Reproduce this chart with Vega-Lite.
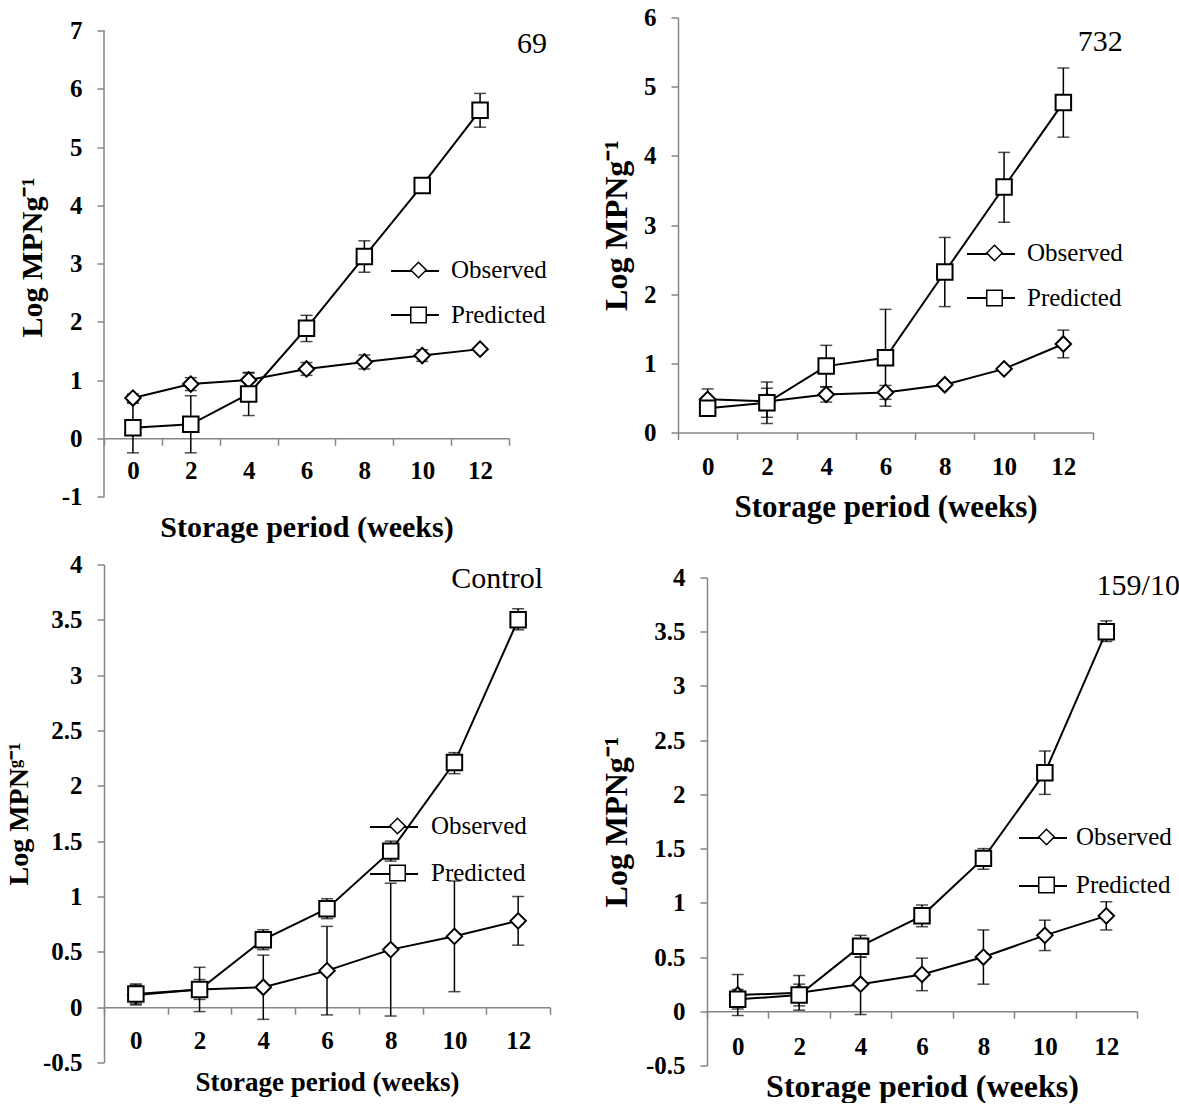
{
  "$schema": "https://vega.github.io/schema/vega-lite/v6.json",
  "background": "white",
  "padding": {"left": 5, "top": 5.5, "right": 0, "bottom": 0},
  "config": {
    "font": "Liberation Serif",
    "view": {"stroke": null},
    "axis": {
      "domainColor": "#868686", "domainWidth": 1.5, "tickColor": "#868686", "tickWidth": 1.5, "tickSize": 7,
      "labelFont": "Liberation Serif", "labelFontWeight": "bold", "labelFontSize": 25, "labelColor": "black",
      "titleFont": "Liberation Serif", "titleFontWeight": "bold", "titleColor": "black", "grid": false
    },
    "legend": {"labelFont": "Liberation Serif", "labelColor": "black", "labelFontSize": 25, "labelFontWeight": "normal", "title": null, "padding": 0, "orient": "none"}
  },
  "datasets": {
    "p69": [
      {"week": 0, "series": "Observed", "value": 0.69, "lo": 0.62, "hi": 0.76},
      {"week": 2, "series": "Observed", "value": 0.93, "lo": 0.82, "hi": 1.04},
      {"week": 4, "series": "Observed", "value": 1.0, "lo": 0.87, "hi": 1.13},
      {"week": 6, "series": "Observed", "value": 1.19, "lo": 1.08, "hi": 1.3},
      {"week": 8, "series": "Observed", "value": 1.31, "lo": 1.19, "hi": 1.43},
      {"week": 10, "series": "Observed", "value": 1.42, "lo": 1.32, "hi": 1.52},
      {"week": 12, "series": "Observed", "value": 1.53, "lo": 1.5, "hi": 1.56},
      {"week": 0, "series": "Predicted", "value": 0.18, "lo": -0.25, "hi": 0.6},
      {"week": 2, "series": "Predicted", "value": 0.24, "lo": -0.25, "hi": 0.73},
      {"week": 4, "series": "Predicted", "value": 0.76, "lo": 0.39, "hi": 1.12},
      {"week": 6, "series": "Predicted", "value": 1.89, "lo": 1.66, "hi": 2.11},
      {"week": 8, "series": "Predicted", "value": 3.12, "lo": 2.85, "hi": 3.39},
      {"week": 10, "series": "Predicted", "value": 4.34, "lo": 4.22, "hi": 4.46},
      {"week": 12, "series": "Predicted", "value": 5.63, "lo": 5.34, "hi": 5.92}
    ],
    "p732": [
      {"week": 0, "series": "Observed", "value": 0.48, "lo": 0.33, "hi": 0.63},
      {"week": 2, "series": "Observed", "value": 0.45, "lo": 0.22, "hi": 0.64},
      {"week": 4, "series": "Observed", "value": 0.55, "lo": 0.44, "hi": 0.66},
      {"week": 6, "series": "Observed", "value": 0.58, "lo": 0.48, "hi": 0.68},
      {"week": 8, "series": "Observed", "value": 0.69, "lo": 0.66, "hi": 0.72},
      {"week": 10, "series": "Observed", "value": 0.92, "lo": 0.89, "hi": 0.95},
      {"week": 12, "series": "Observed", "value": 1.28, "lo": 1.08, "hi": 1.48},
      {"week": 0, "series": "Predicted", "value": 0.35, "lo": 0.3, "hi": 0.4},
      {"week": 2, "series": "Predicted", "value": 0.43, "lo": 0.13, "hi": 0.73},
      {"week": 4, "series": "Predicted", "value": 0.96, "lo": 0.66, "hi": 1.26},
      {"week": 6, "series": "Predicted", "value": 1.08, "lo": 0.38, "hi": 1.78},
      {"week": 8, "series": "Predicted", "value": 2.32, "lo": 1.82, "hi": 2.82},
      {"week": 10, "series": "Predicted", "value": 3.55, "lo": 3.04, "hi": 4.05},
      {"week": 12, "series": "Predicted", "value": 4.77, "lo": 4.27, "hi": 5.27}
    ],
    "pctrl": [
      {"week": 0, "series": "Observed", "value": 0.11, "lo": 0.02, "hi": 0.2},
      {"week": 2, "series": "Observed", "value": 0.16, "lo": -0.04, "hi": 0.36},
      {"week": 4, "series": "Observed", "value": 0.18, "lo": -0.11, "hi": 0.47},
      {"week": 6, "series": "Observed", "value": 0.33, "lo": -0.07, "hi": 0.73},
      {"week": 8, "series": "Observed", "value": 0.52, "lo": -0.08, "hi": 1.12},
      {"week": 10, "series": "Observed", "value": 0.64, "lo": 0.14, "hi": 1.14},
      {"week": 12, "series": "Observed", "value": 0.78, "lo": 0.56, "hi": 1.0},
      {"week": 0, "series": "Predicted", "value": 0.12, "lo": 0.03, "hi": 0.21},
      {"week": 2, "series": "Predicted", "value": 0.16, "lo": 0.07, "hi": 0.25},
      {"week": 4, "series": "Predicted", "value": 0.61, "lo": 0.52, "hi": 0.7},
      {"week": 6, "series": "Predicted", "value": 0.89, "lo": 0.8, "hi": 0.98},
      {"week": 8, "series": "Predicted", "value": 1.41, "lo": 1.32, "hi": 1.5},
      {"week": 10, "series": "Predicted", "value": 2.21, "lo": 2.11, "hi": 2.3},
      {"week": 12, "series": "Predicted", "value": 3.5, "lo": 3.41, "hi": 3.6}
    ],
    "p159": [
      {"week": 0, "series": "Observed", "value": 0.15, "lo": -0.04, "hi": 0.34},
      {"week": 2, "series": "Observed", "value": 0.17, "lo": 0.01, "hi": 0.33},
      {"week": 4, "series": "Observed", "value": 0.25, "lo": -0.03, "hi": 0.5},
      {"week": 6, "series": "Observed", "value": 0.34, "lo": 0.19, "hi": 0.49},
      {"week": 8, "series": "Observed", "value": 0.5, "lo": 0.25, "hi": 0.75},
      {"week": 10, "series": "Observed", "value": 0.7, "lo": 0.56, "hi": 0.84},
      {"week": 12, "series": "Observed", "value": 0.88, "lo": 0.75, "hi": 1.01},
      {"week": 0, "series": "Predicted", "value": 0.11, "lo": 0.02, "hi": 0.2},
      {"week": 2, "series": "Predicted", "value": 0.15, "lo": 0.05, "hi": 0.25},
      {"week": 4, "series": "Predicted", "value": 0.6, "lo": 0.5, "hi": 0.7},
      {"week": 6, "series": "Predicted", "value": 0.88, "lo": 0.78, "hi": 0.98},
      {"week": 8, "series": "Predicted", "value": 1.41, "lo": 1.31, "hi": 1.5},
      {"week": 10, "series": "Predicted", "value": 2.2, "lo": 2.0, "hi": 2.4},
      {"week": 12, "series": "Predicted", "value": 3.5, "lo": 3.41, "hi": 3.6}
    ]
  },
  "columns": 2,
  "align": "none",
  "bounds": "full",
  "spacing": {"row": 10, "column": 49},
  "resolve": {"scale": {"shape": "independent", "color": "independent"}, "legend": {"shape": "independent", "color": "independent"}},
  "concat": [
    {
      "width": 405, "height": 479,
      "data": {"name": "p69"},
      "encoding": {
        "x": {"field": "week", "type": "ordinal", "title": "Storage period (weeks)",
          "scale": {"type": "band", "domain": [0, 2, 4, 6, 8, 10, 12], "paddingInner": 0, "paddingOuter": 0},
          "axis": {"labelAngle": 0, "tickBand": "extent", "offset": -58.25, "labelPadding": 13, "titlePadding": 29, "titleFontSize": 30}}
      },
      "layer": [
        {"mark": {"type": "rule", "color": "black", "strokeWidth": 1.5},
         "encoding": {"y": {"field": "lo", "type": "quantitative", "title": "Log MPNg⁻¹",
           "scale": {"domain": [-1, 7.2232], "nice": false, "zero": false},
           "axis": {"values": [-1, 0, 1, 2, 3, 4, 5, 6, 7], "format": "d", "labelExpr": "replace(datum.label, '−', '-')", "labelPadding": 15, "titleFontSize": 30, "titlePadding": 14, "domain": false}},
           "y2": {"field": "hi"}}},
        {"data": {"values": [{}]},
         "mark": {"type": "rule", "color": "#868686", "strokeWidth": 1.5},
         "encoding": {"x": {"datum": 0, "type": "ordinal", "bandPosition": 0}, "y": {"datum": -1, "type": "quantitative"}, "y2": {"datum": 7}}},
        {"mark": {"type": "tick", "color": "black", "thickness": 1.5, "size": 12},
         "encoding": {"y": {"field": "lo", "type": "quantitative", "title": "Log MPNg⁻¹"}}},
        {"mark": {"type": "tick", "color": "black", "thickness": 1.5, "size": 12},
         "encoding": {"y": {"field": "hi", "type": "quantitative", "title": "Log MPNg⁻¹"}}},
        {"mark": {"type": "line", "strokeWidth": 2},
         "encoding": {"y": {"field": "value", "type": "quantitative", "title": "Log MPNg⁻¹"},
           "color": {"field": "series", "type": "nominal", "scale": {"domain": ["Predicted", "Observed"], "range": ["black", "black"]},
             "legend": {"legendX": 286, "legendY": 228.5, "symbolType": "stroke", "symbolSize": 2304, "symbolStrokeWidth": 2, "symbolStrokeColor": "black", "labelOpacity": 0, "labelOffset": 0, "rowPadding": 6}}}},
        {"mark": {"type": "point", "filled": true, "fill": "white", "stroke": "black", "strokeWidth": 2, "size": 240, "opacity": 1},
         "encoding": {"y": {"field": "value", "type": "quantitative", "title": "Log MPNg⁻¹"},
           "shape": {"field": "series", "type": "nominal", "scale": {"domain": ["Observed", "Predicted"], "range": ["diamond", "square"]},
             "legend": {"legendX": 302, "legendY": 240, "labelOffset": 20, "rowPadding": 19, "symbolSize": 240}}}},
        {"data": {"values": [{}]},
         "mark": {"type": "text", "font": "Liberation Serif", "fontSize": 30, "align": "center", "baseline": "middle", "dx": 52, "color": "black"},
         "encoding": {"x": {"datum": 12, "type": "ordinal"}, "y": {"datum": 6.76, "type": "quantitative"}, "text": {"value": "69"}}}
      ]
    },
    {
      "width": 415, "height": 415,
      "data": {"name": "p732"},
      "encoding": {
        "x": {"field": "week", "type": "ordinal", "title": "Storage period (weeks)",
          "scale": {"type": "band", "domain": [0, 2, 4, 6, 8, 10, 12], "paddingInner": 0, "paddingOuter": 0},
          "axis": {"labelAngle": 0, "tickBand": "extent", "labelPadding": 15, "titlePadding": 13, "titleFontSize": 31}}
      },
      "layer": [
        {"mark": {"type": "rule", "color": "black", "strokeWidth": 1.5},
         "encoding": {"y": {"field": "lo", "type": "quantitative", "title": "Log MPNg⁻¹",
           "scale": {"domain": [0, 6], "nice": false, "zero": false},
           "axis": {"values": [0, 1, 2, 3, 4, 5, 6], "format": "d", "labelPadding": 15, "titleFontSize": 32, "titlePadding": 10}},
           "y2": {"field": "hi"}}},
        {"mark": {"type": "tick", "color": "black", "thickness": 1.5, "size": 12},
         "encoding": {"y": {"field": "lo", "type": "quantitative", "title": "Log MPNg⁻¹"}}},
        {"mark": {"type": "tick", "color": "black", "thickness": 1.5, "size": 12},
         "encoding": {"y": {"field": "hi", "type": "quantitative", "title": "Log MPNg⁻¹"}}},
        {"mark": {"type": "line", "strokeWidth": 2},
         "encoding": {"y": {"field": "value", "type": "quantitative", "title": "Log MPNg⁻¹"},
           "color": {"field": "series", "type": "nominal", "scale": {"domain": ["Predicted", "Observed"], "range": ["black", "black"]},
             "legend": {"legendX": 288, "legendY": 211.5, "symbolType": "stroke", "symbolSize": 2304, "symbolStrokeWidth": 2, "symbolStrokeColor": "black", "labelOpacity": 0, "labelOffset": 0, "rowPadding": 6}}}},
        {"mark": {"type": "point", "filled": true, "fill": "white", "stroke": "black", "strokeWidth": 2, "size": 240, "opacity": 1},
         "encoding": {"y": {"field": "value", "type": "quantitative", "title": "Log MPNg⁻¹"},
           "shape": {"field": "series", "type": "nominal", "scale": {"domain": ["Observed", "Predicted"], "range": ["diamond", "square"]},
             "legend": {"legendX": 304, "legendY": 223, "labelOffset": 20, "rowPadding": 19, "symbolSize": 240}}}},
        {"data": {"values": [{}]},
         "mark": {"type": "text", "font": "Liberation Serif", "fontSize": 30, "align": "center", "baseline": "middle", "dx": 37, "color": "black"},
         "encoding": {"x": {"datum": 12, "type": "ordinal"}, "y": {"datum": 5.64, "type": "quantitative"}, "text": {"value": "732"}}}
      ]
    },
    {
      "width": 446, "height": 498,
      "data": {"name": "pctrl"},
      "encoding": {
        "x": {"field": "week", "type": "ordinal", "title": "Storage period (weeks)",
          "scale": {"type": "band", "domain": [0, 2, 4, 6, 8, 10, 12], "paddingInner": 0, "paddingOuter": 0},
          "axis": {"labelAngle": 0, "tickBand": "extent", "offset": -55.33, "labelPadding": 14, "titlePadding": 16, "titleFontSize": 27}}
      },
      "layer": [
        {"mark": {"type": "rule", "color": "black", "strokeWidth": 1.5},
         "encoding": {"y": {"field": "lo", "type": "quantitative", "title": "Log MPNᵍ⁻¹",
           "scale": {"domain": [-0.5, 4], "nice": false, "zero": false},
           "axis": {"values": [-0.5, 0, 0.5, 1, 1.5, 2, 2.5, 3, 3.5, 4], "format": "~g", "labelExpr": "replace(datum.label, '−', '-')", "labelPadding": 15, "titleFontSize": 28, "titlePadding": 9}},
           "y2": {"field": "hi"}}},
        {"mark": {"type": "tick", "color": "black", "thickness": 1.5, "size": 12},
         "encoding": {"y": {"field": "lo", "type": "quantitative", "title": "Log MPNᵍ⁻¹"}}},
        {"mark": {"type": "tick", "color": "black", "thickness": 1.5, "size": 12},
         "encoding": {"y": {"field": "hi", "type": "quantitative", "title": "Log MPNᵍ⁻¹"}}},
        {"mark": {"type": "line", "strokeWidth": 2},
         "encoding": {"y": {"field": "value", "type": "quantitative", "title": "Log MPNᵍ⁻¹"},
           "color": {"field": "series", "type": "nominal", "scale": {"domain": ["Predicted", "Observed"], "range": ["black", "black"]},
             "legend": {"legendX": 265, "legendY": 237.5, "symbolType": "stroke", "symbolSize": 2304, "symbolStrokeWidth": 2, "symbolStrokeColor": "black", "labelOpacity": 0, "labelOffset": 0, "rowPadding": 9}}}},
        {"mark": {"type": "point", "filled": true, "fill": "white", "stroke": "black", "strokeWidth": 2, "size": 240, "opacity": 1},
         "encoding": {"y": {"field": "value", "type": "quantitative", "title": "Log MPNᵍ⁻¹"},
           "shape": {"field": "series", "type": "nominal", "scale": {"domain": ["Observed", "Predicted"], "range": ["diamond", "square"]},
             "legend": {"legendX": 281, "legendY": 249, "labelOffset": 21, "rowPadding": 21, "symbolSize": 240}}}},
        {"data": {"values": [{}]},
         "mark": {"type": "text", "font": "Liberation Serif", "fontSize": 30, "align": "center", "baseline": "middle", "dx": -21, "color": "black"},
         "encoding": {"x": {"datum": 12, "type": "ordinal"}, "y": {"datum": 3.87, "type": "quantitative"}, "text": {"value": "Control"}}}
      ]
    },
    {
      "width": 430, "height": 488,
      "data": {"name": "p159"},
      "title": {"text": " ", "fontSize": 9, "offset": 4},
      "encoding": {
        "x": {"field": "week", "type": "ordinal", "title": "Storage period (weeks)",
          "scale": {"type": "band", "domain": [0, 2, 4, 6, 8, 10, 12], "paddingInner": 0, "paddingOuter": 0},
          "axis": {"labelAngle": 0, "tickBand": "extent", "offset": -54.22, "labelPadding": 16, "titlePadding": 12, "titleFontSize": 32}}
      },
      "layer": [
        {"mark": {"type": "rule", "color": "black", "strokeWidth": 1.5},
         "encoding": {"y": {"field": "lo", "type": "quantitative", "title": "Log MPNg⁻¹",
           "scale": {"domain": [-0.5, 4], "nice": false, "zero": false},
           "axis": {"values": [-0.5, 0, 0.5, 1, 1.5, 2, 2.5, 3, 3.5, 4], "format": "~g", "labelExpr": "replace(datum.label, '−', '-')", "labelPadding": 15, "titleFontSize": 32, "titlePadding": 12}},
           "y2": {"field": "hi"}}},
        {"mark": {"type": "tick", "color": "black", "thickness": 1.5, "size": 12},
         "encoding": {"y": {"field": "lo", "type": "quantitative", "title": "Log MPNg⁻¹"}}},
        {"mark": {"type": "tick", "color": "black", "thickness": 1.5, "size": 12},
         "encoding": {"y": {"field": "hi", "type": "quantitative", "title": "Log MPNg⁻¹"}}},
        {"mark": {"type": "line", "strokeWidth": 2},
         "encoding": {"y": {"field": "value", "type": "quantitative", "title": "Log MPNg⁻¹"},
           "color": {"field": "series", "type": "nominal", "scale": {"domain": ["Predicted", "Observed"], "range": ["black", "black"]},
             "legend": {"legendX": 311, "legendY": 235.5, "symbolType": "stroke", "symbolSize": 2304, "symbolStrokeWidth": 2, "symbolStrokeColor": "black", "labelOpacity": 0, "labelOffset": 0, "rowPadding": 10}}}},
        {"mark": {"type": "point", "filled": true, "fill": "white", "stroke": "black", "strokeWidth": 2, "size": 240, "opacity": 1},
         "encoding": {"y": {"field": "value", "type": "quantitative", "title": "Log MPNg⁻¹"},
           "shape": {"field": "series", "type": "nominal", "scale": {"domain": ["Observed", "Predicted"], "range": ["diamond", "square"]},
             "legend": {"legendX": 327, "legendY": 247, "labelOffset": 17, "rowPadding": 22, "symbolSize": 240}}}},
        {"data": {"values": [{}]},
         "mark": {"type": "text", "font": "Liberation Serif", "fontSize": 30, "align": "center", "baseline": "middle", "dx": 32, "color": "black"},
         "encoding": {"x": {"datum": 12, "type": "ordinal"}, "y": {"datum": 3.92, "type": "quantitative"}, "text": {"value": "159/10"}}}
      ]
    }
  ]
}
